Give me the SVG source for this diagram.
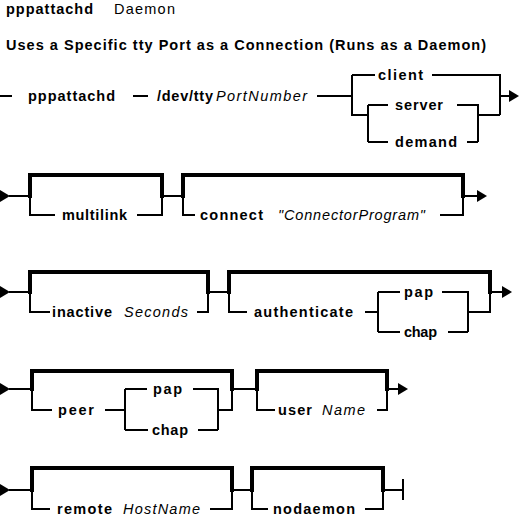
<svg xmlns="http://www.w3.org/2000/svg" xmlns:xlink="http://www.w3.org/1999/xlink" width="521" height="520" viewBox="0 0 521 520">
<style>
.l{fill:none;stroke:#000;stroke-width:2;stroke-linejoin:miter;stroke-linecap:butt}
.k{fill:none;stroke:#000;stroke-width:4;stroke-linejoin:miter;stroke-linecap:square}
text{font-family:"Liberation Sans",Arial,sans-serif;fill:#000}
.b{font-weight:bold;font-size:14.5px}
.i{font-style:italic;font-size:14.5px}
.r{font-size:14.5px}
.h{font-weight:bold;font-size:14.5px}
</style>
<defs>
<polygon id="arr" points="-10,-6 0,0 -10,6" fill="#000"/>
</defs>
<rect width="521" height="520" fill="#fff"/>
<g id="title">
<text class="h" x="6" y="14" textLength="87" lengthAdjust="spacing">pppattachd</text>
<text class="r" x="114" y="14" textLength="61" lengthAdjust="spacing">Daemon</text>
</g>
<g id="subtitle">
<text class="h" x="6" y="50" textLength="480" lengthAdjust="spacing">Uses a Specific tty Port as a Connection (Runs as a Daemon)</text>
</g>
<g id="connectors">
<path class="l" d="M0,96H12M133,96H148M317,96H352M352,75V115H368M368,105V142M352,75H375M432,75H500V115M500,96H510M368,105H388M457,105H478V142M368,142H388M467,142H478M478,115H500"/>
<use xlink:href="#arr" x="519" y="96"/>
<use xlink:href="#arr" x="10" y="196"/>
<path class="l" d="M9,196H30M30,196V215H55M137,215H162V196M162,196H183M183,196V215H195M440,215H463V196M463,196H478"/>
<path class="k" d="M30,196V175H162V196M183,196V175H463V196"/>
<use xlink:href="#arr" x="487" y="196"/>
<use xlink:href="#arr" x="10" y="292"/>
<path class="l" d="M9,292H30M30,292V312H50M197,312H208V292M208,292H229M229,292V312H247M365,312H378M378,292V332M378,292H400M442,292H468V332M378,332H400M448,332H468M468,312H490V292M490,292H503"/>
<path class="k" d="M30,292V272H208V292M229,292V272H490V292"/>
<use xlink:href="#arr" x="512" y="292"/>
<use xlink:href="#arr" x="10" y="389"/>
<path class="l" d="M9,389H32M32,389V410H52M105,410H125M125,389V430M125,389H147M193,389H218V430M125,430H148M198,430H218M218,410H232V389M232,389H257M257,389V410H275M377,410H387V389M387,389H399"/>
<path class="k" d="M32,389V371H232V389M257,389V371H387V389"/>
<use xlink:href="#arr" x="408" y="389"/>
<use xlink:href="#arr" x="10" y="490"/>
<path class="l" d="M9,490H32M32,490V509H50M210,509H232V490M232,490H252M252,490V509H268M365,509H383V490M383,490H403M403,479V500"/>
<path class="k" d="M32,490V468H232V490M252,490V468H383V490"/>
</g>
<g id="n-pppattachd"><text class="b" x="28" y="101" textLength="87" lengthAdjust="spacing">pppattachd</text></g>
<g id="n-devtty"><text class="b" x="157" y="101" textLength="56" lengthAdjust="spacing">/dev/tty</text><text class="i" x="216" y="101" textLength="91" lengthAdjust="spacing">PortNumber</text></g>
<g id="n-client"><text class="b" x="378" y="80" textLength="45" lengthAdjust="spacing">client</text></g>
<g id="n-server"><text class="b" x="395" y="110" textLength="48" lengthAdjust="spacing">server</text></g>
<g id="n-demand"><text class="b" x="395" y="147" textLength="62" lengthAdjust="spacing">demand</text></g>
<g id="n-multilink"><text class="b" x="62" y="220" textLength="65" lengthAdjust="spacing">multilink</text></g>
<g id="n-connect"><text class="b" x="200" y="220" textLength="63" lengthAdjust="spacing">connect</text><text class="i" x="278" y="220" textLength="147" lengthAdjust="spacing">"ConnectorProgram"</text></g>
<g id="n-inactive"><text class="b" x="52" y="317" textLength="60" lengthAdjust="spacing">inactive</text><text class="i" x="124" y="317" textLength="64" lengthAdjust="spacing">Seconds</text></g>
<g id="n-authenticate"><text class="b" x="254" y="317" textLength="99" lengthAdjust="spacing">authenticate</text></g>
<g id="n-pap1"><text class="b" x="404" y="297" textLength="29" lengthAdjust="spacing">pap</text></g>
<g id="n-chap1"><text class="b" x="404" y="337" textLength="33" lengthAdjust="spacing">chap</text></g>
<g id="n-peer"><text class="b" x="58" y="415" textLength="36" lengthAdjust="spacing">peer</text></g>
<g id="n-pap2"><text class="b" x="153" y="394" textLength="29" lengthAdjust="spacing">pap</text></g>
<g id="n-chap2"><text class="b" x="152" y="435" textLength="36" lengthAdjust="spacing">chap</text></g>
<g id="n-user"><text class="b" x="278" y="415" textLength="34" lengthAdjust="spacing">user</text><text class="i" x="322" y="415" textLength="43" lengthAdjust="spacing">Name</text></g>
<g id="n-remote"><text class="b" x="57" y="514" textLength="55" lengthAdjust="spacing">remote</text><text class="i" x="123" y="514" textLength="77" lengthAdjust="spacing">HostName</text></g>
<g id="n-nodaemon"><text class="b" x="273" y="514" textLength="82" lengthAdjust="spacing">nodaemon</text></g>
</svg>
